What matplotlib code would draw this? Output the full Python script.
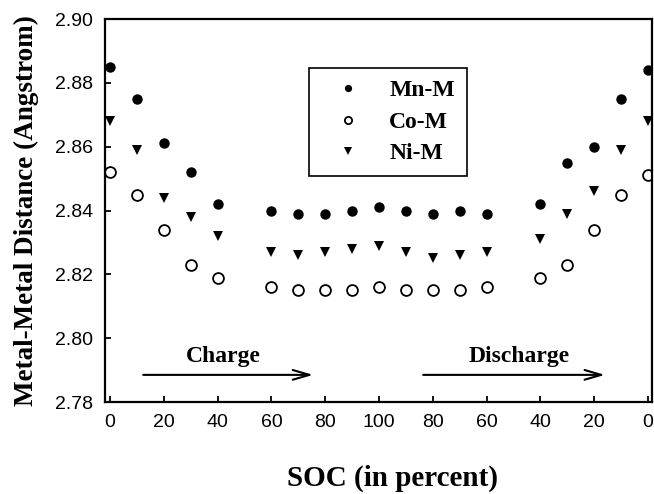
import numpy as np
import matplotlib
matplotlib.use("Agg")
import matplotlib.pyplot as plt
from matplotlib.lines import Line2D

# x positions in steps of 10 % SOC: charge 0..100, then discharge back to 0
pos = [0, 1, 2, 3, 4, 6, 7, 8, 9, 10, 11, 12, 13, 14, 16, 17, 18, 19, 20]
tick_pos = [0, 2, 4, 6, 8, 10, 12, 14, 16, 18, 20]
tick_labels = ['0', '20', '40', '60', '80', '100', '80', '60', '40', '20', '0']

mn_m = [2.885, 2.875, 2.861, 2.852, 2.842, 2.840, 2.839, 2.839, 2.840, 2.841,
        2.840, 2.839, 2.840, 2.839, 2.842, 2.855, 2.860, 2.875, 2.884]
co_m = [2.852, 2.845, 2.834, 2.823, 2.819, 2.816, 2.815, 2.815, 2.815, 2.816,
        2.815, 2.815, 2.815, 2.816, 2.819, 2.823, 2.834, 2.845, 2.851]
ni_m = [2.868, 2.859, 2.844, 2.838, 2.832, 2.827, 2.826, 2.827, 2.828, 2.829,
        2.827, 2.825, 2.826, 2.827, 2.831, 2.839, 2.846, 2.859, 2.868]

serif = ['Liberation Serif', 'DejaVu Serif']
sans = ['Liberation Sans', 'DejaVu Sans']

fig = plt.figure(figsize=(6.54, 4.94), dpi=100)
ax = fig.add_axes([105 / 654, 1 - 402 / 494, 547 / 654, 383 / 494])

ax.plot(pos, mn_m, 'o', ls='none', color='black', ms=7.5, mew=0)
ax.plot(pos, co_m, 'o', ls='none', mfc='white', mec='black', ms=7.8, mew=1.3)
ax.plot(pos, ni_m, 'v', ls='none', color='black', ms=7.8, mew=0)

ax.set_xlim(-0.19, 20.15)
ax.set_ylim(2.78, 2.90)
ax.set_xticks(tick_pos)
ax.set_xticklabels(tick_labels)
ax.set_yticks(np.arange(2.78, 2.901, 0.02))
ax.yaxis.set_major_formatter(matplotlib.ticker.FormatStrFormatter('%.2f'))
ax.tick_params(direction='in', length=4, width=1.3, pad=8.5, labelsize=14,
               top=False, right=False)
for lab in ax.get_xticklabels() + ax.get_yticklabels():
    lab.set_family(sans)
for sp in ax.spines.values():
    sp.set_linewidth(1.6)

ax.set_xlabel('SOC (in percent)', family=serif, fontweight='bold', fontsize=21,
              va='baseline')
ax.xaxis.set_label_coords(0.525, (402 - 486) / 383)
ax.set_ylabel('Metal-Metal Distance (Angstrom)', family=serif, fontweight='bold',
              fontsize=19.5, va='baseline')
ax.yaxis.set_label_coords((33 - 105) / 547, 0.501)

# charge / discharge arrows
arrow = dict(arrowstyle='->, head_length=1.2, head_width=0.35', lw=1.5,
             color='black', mutation_scale=10, shrinkA=0, shrinkB=0)
ax.annotate('', xy=(7.55, 2.7885), xytext=(1.23, 2.7885), arrowprops=arrow)
ax.annotate('', xy=(18.4, 2.7885), xytext=(11.64, 2.7885), arrowprops=arrow)
ax.text(4.2, 2.7941, 'Charge', family=serif, fontweight='bold', fontsize=17,
        ha='center', va='center')
ax.text(15.2, 2.7941, 'Discharge', family=serif, fontweight='bold', fontsize=17,
        ha='center', va='center')

handles = [
    Line2D([], [], marker='o', ls='none', color='black', ms=5.2, mew=0),
    Line2D([], [], marker='o', ls='none', mfc='white', mec='black', ms=5.2, mew=1.3),
    Line2D([], [], marker='v', ls='none', color='black', ms=5.4, mew=0),
]
leg = ax.legend(handles, ['Mn-M', 'Co-M', 'Ni-M'], loc='upper left',
                bbox_to_anchor=((309 - 105) / 547, (402 - 68) / 383),
                prop={'family': serif, 'weight': 'bold', 'size': 17},
                frameon=True, fancybox=False, edgecolor='black', framealpha=1,
                borderpad=0.5, labelspacing=0.42, handlelength=2.3,
                handletextpad=0.6, borderaxespad=0)
leg.get_frame().set_linewidth(1.2)

fig.savefig('out.png', dpi=100)
